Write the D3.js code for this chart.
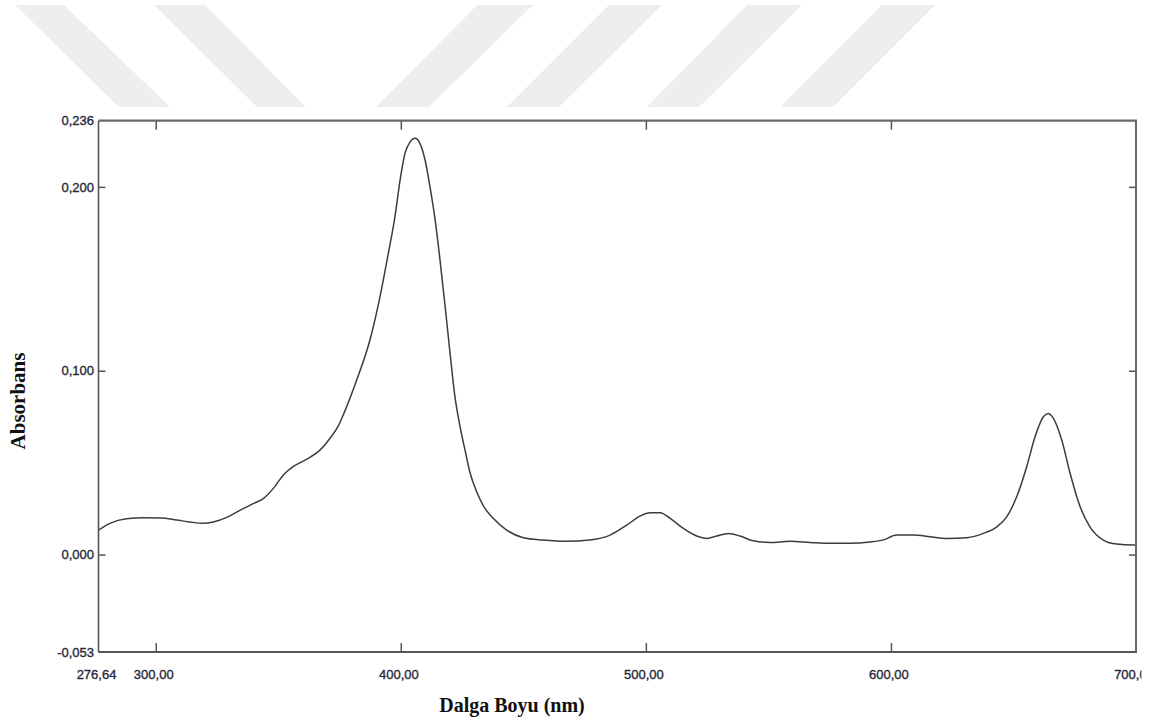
<!DOCTYPE html>
<html>
<head>
<meta charset="utf-8">
<script src="https://cdn.jsdelivr.net/npm/d3@7"></script>
<style>
  html, body { margin: 0; padding: 0; background: #fff; }
  svg { display: block; }
</style>
</head>
<body>
<svg id="chart" width="1158" height="723"></svg>
<script>
// Absorption spectrum: wavelength (nm) and absorbance
const wavelengths = [
  276.64, 281.3, 288, 295, 302, 308.5, 314, 319.5, 323.5, 329, 334.5, 340, 344, 348, 352, 356,
  361.5, 367, 371, 374.5, 377, 382, 387.4, 391.5, 394.9, 397.6, 399.7, 401.7, 403.8, 405.8,
  407.8, 409.9, 411.9, 414, 416, 418.1, 420.1, 422.1, 424.2, 426.2, 428.3, 431, 433.7, 437.7,
  443.2, 450, 458, 467.7, 477, 485.4, 492.2, 497.6, 501.7, 505.8, 509.9, 515.3, 520.7, 524.8,
  528.9, 533.6, 538.4, 543.8, 550.7, 558.8, 567, 575, 583.3, 591.4, 597, 602.3, 609, 616,
  622.8, 631, 637.7, 643.2, 647.3, 651.3, 655.4, 658.8, 662.2, 664.2, 666.3, 669.7, 673.1,
  677.2, 681.2, 686.7, 692.1, 698.9, 700
];
const absorbance = [
  0.0133, 0.0170, 0.0195, 0.0200, 0.0199, 0.0188, 0.0177, 0.0170, 0.0177, 0.0202, 0.0242, 0.0278, 0.0306, 0.0360, 0.0432, 0.0478,
  0.0518, 0.0568, 0.0630, 0.0700, 0.0775, 0.0949, 0.1167, 0.1402, 0.1638, 0.1837, 0.2037, 0.2182, 0.2245, 0.2264,
  0.2237, 0.2146, 0.2001, 0.1820, 0.1602, 0.1348, 0.1094, 0.0858, 0.0695, 0.0568, 0.0442, 0.0340, 0.0265, 0.0197,
  0.0133, 0.0092, 0.0079, 0.0072, 0.0079, 0.0106, 0.0160, 0.0209, 0.0227, 0.0227, 0.0197, 0.0142, 0.0101, 0.0088,
  0.0101, 0.0115, 0.0101, 0.0075, 0.0066, 0.0072, 0.0066, 0.0061, 0.0061, 0.0068, 0.0080, 0.0106, 0.0106, 0.0097,
  0.0088, 0.0092, 0.0115, 0.0151, 0.0206, 0.0314, 0.0478, 0.0641, 0.0750, 0.0768, 0.0741, 0.0623, 0.0442,
  0.0260, 0.0151, 0.0079, 0.0057, 0.0052, 0.0052
];

// Axis settings
const xDomain = [276.64, 700];
const yDomain = [-0.053, 0.236];
const xLabelTicks = [276.64, 300, 400, 500, 600, 700];
const xMarkTicks = [300, 400, 500, 600];
const yLabelTicks = [-0.053, 0, 0.1, 0.2, 0.236];
const yMarkTicks = [0, 0.1, 0.2];
const xTitle = "Dalga Boyu (nm)";
const yTitle = "Absorbans";

// Light banner stripes across the top of the page
const bannerStripes = [
  [[15, 5], [64, 5], [170, 107], [119, 107]],
  [[154, 5], [205, 5], [306, 107], [257, 107]],
  [[477, 5], [533, 5], [429, 107], [376, 107]],
  [[609, 5], [662, 5], [559, 107], [507, 107]],
  [[747, 5], [802, 5], [699, 107], [647, 107]],
  [[882, 5], [935, 5], [833, 107], [780, 107]]
];

const svg = d3.select("#chart");
const W = 1158, H = 723;
const plot = { left: 98.5, right: 1136, top: 120.7, bottom: 652 };

svg.append("rect").attr("width", W).attr("height", H).attr("fill", "#fff");

svg.append("g").selectAll("polygon")
  .data(bannerStripes)
  .join("polygon")
  .attr("points", d => d.map(p => p.join(",")).join(" "))
  .attr("fill", "#eeeeee");

const x = d3.scaleLinear().domain(xDomain).range([plot.left, plot.right]);
const y = d3.scaleLinear().domain(yDomain).range([plot.bottom, plot.top]);

const locale = d3.formatLocale({ decimal: ",", thousands: ".", grouping: [3], currency: ["", ""], minus: "-" });
const fmt2 = locale.format(".2f");
const fmt3 = locale.format(".3f");

const labelFont = "'Liberation Sans', Arial, sans-serif";
const labelColor = "#262838";

function styleLabels(g) {
  g.selectAll("text")
    .attr("font-family", labelFont).attr("font-size", 13)
    .attr("fill", labelColor)
    .attr("stroke", labelColor).attr("stroke-width", 0.35);
}

// Clip for the x tick labels (the last label is cut at the frame edge)
svg.append("defs").append("clipPath").attr("id", "xlabClip")
  .append("rect").attr("x", 0).attr("y", 0).attr("width", 1144).attr("height", H);

// X tick labels
const gxLab = svg.append("g")
  .attr("transform", `translate(-2.5,${plot.bottom})`)
  .attr("clip-path", "url(#xlabClip)")
  .call(d3.axisBottom(x).tickValues(xLabelTicks).tickSize(0).tickPadding(18).tickFormat(fmt2));
gxLab.select(".domain").remove();
styleLabels(gxLab);

// Y tick labels
const gyLab = svg.append("g")
  .attr("transform", `translate(${plot.left},0)`)
  .call(d3.axisLeft(y).tickValues(yLabelTicks).tickSize(0).tickPadding(4.5).tickFormat(fmt3));
gyLab.select(".domain").remove();
styleLabels(gyLab);

// Inward tick marks on all four sides
const tickColor = "#555";
function marks(axis, tx, ty) {
  const g = svg.append("g").attr("transform", `translate(${tx},${ty})`).call(axis);
  g.select(".domain").remove();
  g.selectAll("text").remove();
  g.selectAll("line").attr("stroke", tickColor).attr("stroke-width", 1.5);
}
marks(d3.axisBottom(x).tickValues(xMarkTicks).tickSize(-9), 0, plot.bottom);
marks(d3.axisTop(x).tickValues(xMarkTicks).tickSize(-9), 0, plot.top);
marks(d3.axisLeft(y).tickValues(yMarkTicks).tickSize(-7), plot.left, 0);
marks(d3.axisRight(y).tickValues(yMarkTicks).tickSize(-7), plot.right, 0);

// Spectrum line
const pts = wavelengths.map((w, i) => [w, absorbance[i]]);
const line = d3.line()
  .x(d => x(d[0]))
  .y(d => y(d[1]))
  .curve(d3.curveMonotoneX);
svg.append("path")
  .datum(pts)
  .attr("d", line)
  .attr("fill", "none")
  .attr("stroke", "#3c3c3c")
  .attr("stroke-width", 1.5)
  .attr("stroke-linejoin", "round");

// Frame
svg.append("line").attr("x1", plot.left).attr("x2", plot.right + 1).attr("y1", plot.top).attr("y2", plot.top)
  .attr("stroke", "#6a6a6a").attr("stroke-width", 2.2);
svg.append("line").attr("x1", plot.left).attr("x2", plot.right + 1).attr("y1", plot.bottom).attr("y2", plot.bottom)
  .attr("stroke", "#555").attr("stroke-width", 2);
svg.append("line").attr("x1", plot.left).attr("x2", plot.left).attr("y1", plot.top).attr("y2", plot.bottom)
  .attr("stroke", "#555").attr("stroke-width", 1.6);
svg.append("line").attr("x1", plot.right).attr("x2", plot.right).attr("y1", plot.top).attr("y2", plot.bottom)
  .attr("stroke", "#666").attr("stroke-width", 2);

// Axis titles
const titleFont = "'Liberation Serif', 'Times New Roman', serif";
svg.append("text")
  .attr("x", 512)
  .attr("y", 712)
  .attr("text-anchor", "middle")
  .attr("font-family", titleFont).attr("font-weight", "bold").attr("font-size", 20)
  .attr("fill", "#111")
  .text(xTitle);
svg.append("text")
  .attr("transform", "translate(25,401) rotate(-90)")
  .attr("text-anchor", "middle")
  .attr("font-family", titleFont).attr("font-weight", "bold").attr("font-size", 21)
  .attr("fill", "#111")
  .text(yTitle);
</script>
</body>
</html>
